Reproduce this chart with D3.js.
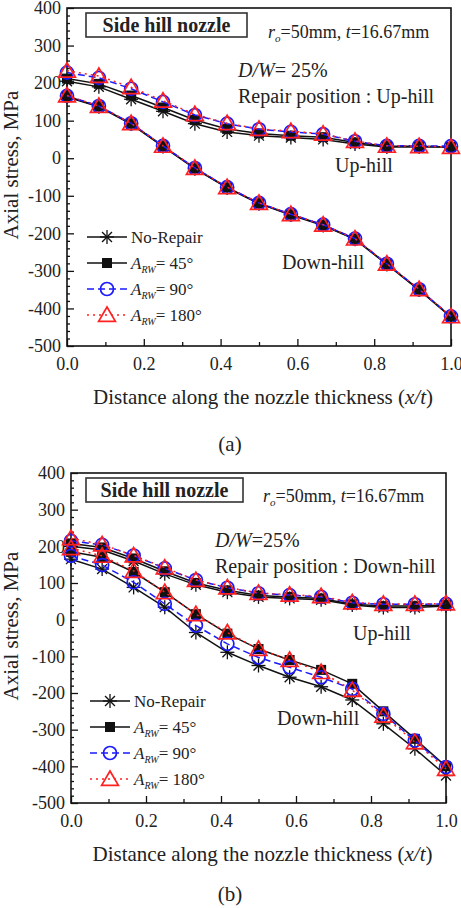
<!DOCTYPE html>
<html>
<head>
<meta charset="utf-8">
<script src="https://cdn.jsdelivr.net/npm/d3@7"></script>
<style>
  body { margin: 0; background: #fff; }
  svg text { font-family: "Liberation Serif", "Times New Roman", "DejaVu Serif", serif; fill: #222; }
</style>
</head>
<body>
<svg id="chart" width="461" height="908"></svg>
<script>
// x positions along the nozzle thickness (x/t)
const xs = [0, 0.083, 0.167, 0.25, 0.333, 0.417, 0.5, 0.583, 0.667, 0.75, 0.833, 0.917, 1.0];

// (a) repair position : Up-hill
const aUpNo   = [205, 190, 157, 125, 92, 70, 60, 55, 50, 38, 30, 30, 30];
const aUp45   = [212, 198, 167, 135, 102, 78, 66, 60, 56, 42, 32, 32, 30];
const aUp90   = [228, 214, 185, 150, 115, 92, 77, 70, 64, 45, 33, 33, 32];
const aUp180  = [233, 219, 189, 153, 117, 93, 78, 72, 65, 46, 33, 32, 30];
const aDownNo  = [163, 137, 91, 31, -28, -79, -121, -151, -179, -216, -283, -351, -423];
const aDown45  = [165, 138, 92, 32, -27, -78, -120, -150, -178, -215, -282, -350, -422];
const aDown90  = [166, 139, 93, 33, -26, -77, -119, -149, -177, -214, -281, -349, -421];
const aDown180 = [167, 139, 93, 33, -26, -77, -119, -149, -177, -214, -281, -349, -421];

// (b) repair position : Down-hill
const bUpNo   = [200, 190, 160, 125, 95, 75, 62, 58, 54, 40, 33, 33, 37];
const bUp45   = [208, 197, 167, 132, 100, 80, 66, 62, 58, 42, 37, 37, 40];
const bUp90   = [215, 204, 175, 140, 108, 87, 72, 67, 62, 46, 42, 42, 43];
const bUp180  = [222, 205, 175, 142, 108, 88, 73, 68, 64, 47, 43, 43, 44];
const bDownNo  = [165, 138, 88, 34, -35, -89, -125, -157, -183, -219, -284, -352, -425];
const bDown45  = [185, 170, 130, 75, 15, -38, -80, -110, -137, -175, -250, -325, -400];
const bDown90  = [174, 149, 102, 43, -16, -66, -103, -130, -157, -189, -257, -330, -402];
const bDown180 = [195, 174, 133, 75, 15, -35, -80, -110, -143, -192, -262, -334, -407];

const yMajor = [-500, -400, -300, -200, -100, 0, 100, 200, 300, 400];
const xMajor = [0, 0.2, 0.4, 0.6, 0.8, 1.0];

const seriesNames = ["No-Repair", "45", "90", "180"];
const seriesStyle = {
    "No-Repair": {color: "#111", dash: null, marker: "star"},
    "45": {color: "#111", dash: null, marker: "square"},
    "90": {color: "#1a1aff", dash: "7,4", marker: "circle"},
    "180": {color: "#ff2020", dash: "2,4", marker: "triangle"}
};

const svg = d3.select("#chart");

function drawMarker(g, type, cx, cy, color) {
    if (type === "star") {
        const r = 7;
        [0, 45, 90, 135].forEach(a => {
            const dx = r * Math.cos(a * Math.PI / 180), dy = r * Math.sin(a * Math.PI / 180);
            g.append("line").attr("x1", cx - dx).attr("y1", cy - dy).attr("x2", cx + dx).attr("y2", cy + dy)
                .attr("stroke", color).attr("stroke-width", 1.3);
        });
    } else if (type === "square") {
        g.append("rect").attr("x", cx - 5).attr("y", cy - 5).attr("width", 10).attr("height", 10).attr("fill", color);
    } else if (type === "circle") {
        g.append("circle").attr("cx", cx).attr("cy", cy).attr("r", 6.5)
            .attr("fill", "none").attr("stroke", color).attr("stroke-width", 1.7);
    } else {
        const s = 8;
        g.append("path").attr("d", `M${cx},${cy - s} L${cx + s * 1.05},${cy + s * 0.8} L${cx - s * 1.05},${cy + s * 0.8} Z`)
            .attr("fill", "none").attr("stroke", color).attr("stroke-width", 1.7);
    }
}

function arwLabel(text, value) {
    text.append("tspan").attr("font-style", "italic").text("A");
    text.append("tspan").attr("font-style", "italic").attr("font-size", "10px").attr("dy", 4).text("RW");
    text.append("tspan").attr("dy", -4).text("= " + value + "\u00b0");
}

function drawPanel(cfg) {
    const x = d3.scaleLinear().domain([0, 1]).range([cfg.left, cfg.right]);
    const y = d3.scaleLinear().domain([-500, 400]).range([cfg.bottom, cfg.top]);
    const g = svg.append("g");

    // minor ticks
    g.append("g").attr("transform", `translate(${cfg.left},0)`)
        .call(d3.axisLeft(y).tickValues(d3.range(-480, 400, 20).filter(v => v % 100 !== 0)).tickSize(-3).tickFormat(""))
        .call(a => a.select(".domain").remove());
    g.append("g").attr("transform", `translate(0,${cfg.bottom})`)
        .call(d3.axisBottom(x).tickValues([0.1, 0.3, 0.5, 0.7, 0.9]).tickSize(-4).tickFormat(""))
        .call(a => a.select(".domain").remove());

    // major ticks
    g.append("g").attr("transform", `translate(${cfg.left},0)`)
        .call(d3.axisLeft(y).tickValues(yMajor).tickSize(-7).tickPadding(5).tickFormat(d => String(d)))
        .call(a => a.select(".domain").remove())
        .call(a => a.selectAll("text").attr("font-size", "18px").attr("dx", "-1"));
    g.append("g").attr("transform", `translate(0,${cfg.bottom})`)
        .call(d3.axisBottom(x).tickValues(xMajor).tickSize(-7).tickPadding(11).tickFormat(d3.format(".1f")))
        .call(a => a.select(".domain").remove())
        .call(a => a.selectAll("text").attr("font-size", "18px"));
    g.selectAll(".tick line").attr("stroke", "#111").attr("stroke-width", 1.3);

    g.append("rect").attr("x", cfg.left).attr("y", cfg.top)
        .attr("width", cfg.right - cfg.left).attr("height", cfg.bottom - cfg.top)
        .attr("fill", "none").attr("stroke", "#111").attr("stroke-width", 1.6);

    // series
    const line = d3.line().x(d => x(d[0])).y(d => y(d[1]));
    const plot = g.append("g");
    seriesNames.forEach((name, i) => {
        const st = seriesStyle[name];
        [cfg.up[i], cfg.down[i]].forEach(vals => {
            const pts = xs.map((v, k) => [v, vals[k]]);
            plot.append("path").datum(pts).attr("d", line)
                .attr("fill", "none").attr("stroke", st.color).attr("stroke-width", 1.5)
                .attr("stroke-dasharray", st.dash);
            pts.forEach(p => drawMarker(plot, st.marker, x(p[0]), y(p[1]), st.color));
        });
    });

    // title box
    g.append("rect").attr("x", 86).attr("y", cfg.top + 5).attr("width", cfg.boxW).attr("height", 24)
        .attr("fill", "#fff").attr("stroke", "#333").attr("stroke-width", 1.6);
    g.append("text").attr("x", 86 + cfg.boxW / 2).attr("y", cfg.top + 24).attr("text-anchor", "middle")
        .attr("font-size", "20px").attr("font-weight", "bold").text("Side hill nozzle");

    const info = g.append("text").attr("x", cfg.infoX).attr("y", cfg.top + cfg.infoY).attr("font-size", "18px");
    info.append("tspan").attr("font-style", "italic").text("r");
    info.append("tspan").attr("font-style", "italic").attr("font-size", "11px").attr("dy", 4).text("o");
    info.append("tspan").attr("dy", -4).text("=50mm, ");
    info.append("tspan").attr("font-style", "italic").text("t");
    info.append("tspan").text("=16.67mm");

    const dw = g.append("text").attr("x", cfg.dwX).attr("y", cfg.top + cfg.dwY).attr("font-size", "20px");
    dw.append("tspan").attr("font-style", "italic").text("D/W");
    dw.append("tspan").text(cfg.dwText);
    g.append("text").attr("x", cfg.dwX).attr("y", cfg.top + cfg.dwY + 26).attr("font-size", "20px")
        .text("Repair position : " + cfg.position);

    g.append("text").attr("x", cfg.upLabel[0]).attr("y", cfg.upLabel[1]).attr("font-size", "20px").text("Up-hill");
    g.append("text").attr("x", cfg.downLabel[0]).attr("y", cfg.downLabel[1]).attr("font-size", "20px").text("Down-hill");

    // legend
    const lg = g.append("g");
    seriesNames.forEach((name, i) => {
        const st = seriesStyle[name];
        const ly = cfg.legendY + i * 26;
        const lx = cfg.legendX;
        lg.append("line").attr("x1", lx).attr("x2", lx + 40).attr("y1", ly).attr("y2", ly)
            .attr("stroke", st.color).attr("stroke-width", 1.5).attr("stroke-dasharray", st.dash);
        drawMarker(lg, st.marker, lx + 20, ly, st.color);
        const t = lg.append("text").attr("x", lx + 44).attr("y", ly + 6).attr("font-size", "17px");
        if (name === "No-Repair") t.text("No-Repair"); else arwLabel(t, name);
    });

    // axis titles
    g.append("text").attr("transform", `translate(18,${(cfg.top + cfg.bottom) / 2 - 12}) rotate(-90)`)
        .attr("text-anchor", "middle").attr("font-size", "21px").text("Axial stress, MPa");
    const xt = g.append("text").attr("x", (cfg.left + cfg.right) / 2 + 4).attr("y", cfg.bottom + 58)
        .attr("text-anchor", "middle").attr("font-size", "21px");
    xt.append("tspan").text("Distance along the nozzle thickness (");
    xt.append("tspan").attr("font-style", "italic").text("x/t");
    xt.append("tspan").text(")");
    g.append("text").attr("x", 230).attr("y", cfg.tagY).attr("text-anchor", "middle")
        .attr("font-size", "21px").text(cfg.tag);
}

drawPanel({
    left: 67, right: 451, top: 8, bottom: 346,
    up: [aUpNo, aUp45, aUp90, aUp180], down: [aDownNo, aDown45, aDown90, aDown180],
    boxW: 161, infoX: 268, infoY: 30, dwX: 238, dwY: 69, dwText: "= 25%", position: "Up-hill",
    upLabel: [335, 172], downLabel: [282, 269],
    legendX: 87, legendY: 237, tag: "(a)", tagY: 451
});

drawPanel({
    left: 71, right: 446, top: 473, bottom: 803,
    up: [bUpNo, bUp45, bUp90, bUp180], down: [bDownNo, bDown45, bDown90, bDown180],
    boxW: 157, infoX: 263, infoY: 29, dwX: 215, dwY: 74, dwText: "=25%", position: "Down-hill",
    upLabel: [353, 640], downLabel: [277, 725],
    legendX: 90, legendY: 701, tag: "(b)", tagY: 901
});
</script>
</body>
</html>
